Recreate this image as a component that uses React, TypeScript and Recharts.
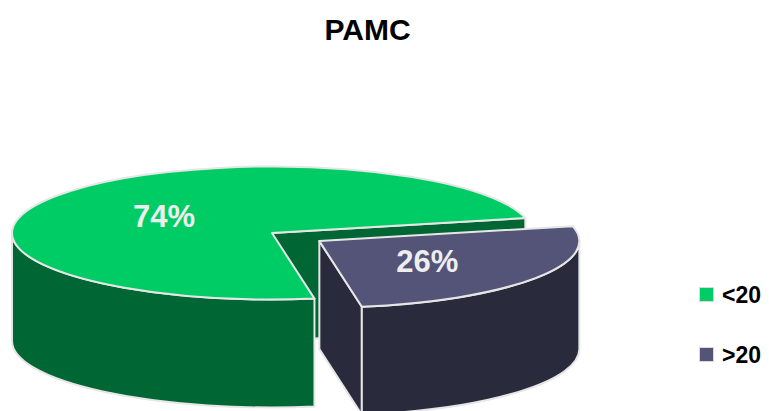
import { PieChart, Pie, Cell, Legend } from 'recharts';

const CATEGORIES = ['<20', '>20'];
const SHARES = [74, 26];
const TOP_COLORS = ['#00cc66', '#545479'];
const SIDE_COLORS = ['#006633', '#2a2a3d'];

const data = CATEGORIES.map((name, i) => ({ name, value: SHARES[i] }));

const FONT = '"Liberation Sans", Arial, sans-serif';
const TILT = 66.5 / 260; // vertical squash of the top ellipse
const DEPTH = 108;
const EXPLODE = [0, 57];
const EDGE = '#e6e6e6';
const RAD = Math.PI / 180;

function Slice3D(props: any) {
  const { cx, cy, startAngle, endAngle, outerRadius, index, percent } = props;
  const a1 = Math.min(startAngle, endAngle);
  const a2 = Math.max(startAngle, endAngle);
  const mid = (a1 + a2) / 2;
  const rx = outerRadius;
  const ry = outerRadius * TILT;
  const off = EXPLODE[index] ?? 0;
  const ox = cx + off * Math.cos(mid * RAD);
  const oy = cy - off * TILT * Math.sin(mid * RAD);
  const pt = (a: number, dy = 0) => [ox + rx * Math.cos(a * RAD), oy - ry * Math.sin(a * RAD) + dy];
  const f = (p: number[]) => `${p[0].toFixed(2)} ${p[1].toFixed(2)}`;

  const faces: string[] = [];
  const face = (a: number) =>
    `M ${ox} ${oy} L ${f(pt(a))} L ${f(pt(a, DEPTH))} L ${ox} ${oy + DEPTH} Z`;
  if (Math.cos(a1 * RAD) > 0) faces.push(face(a1));
  if (Math.cos(a2 * RAD) < 0) faces.push(face(a2));

  const walls: string[] = [];
  for (let k = -1; k <= 1; k++) {
    const lo = Math.max(a1, 180 + 360 * k);
    const hi = Math.min(a2, 360 + 360 * k);
    if (hi > lo) {
      const large = hi - lo > 180 ? 1 : 0;
      walls.push(
        `M ${f(pt(lo))} A ${rx} ${ry} 0 ${large} 0 ${f(pt(hi))} L ${f(pt(hi, DEPTH))} A ${rx} ${ry} 0 ${large} 1 ${f(pt(lo, DEPTH))} Z`
      );
    }
  }

  const largeTop = a2 - a1 > 180 ? 1 : 0;
  const top = `M ${ox} ${oy} L ${f(pt(a1))} A ${rx} ${ry} 0 ${largeTop} 0 ${f(pt(a2))} Z`;
  const [tx, ty] = [ox + 0.5 * rx * Math.cos(mid * RAD), oy - 0.5 * ry * Math.sin(mid * RAD)];

  return (
    <g>
      {faces.map((d, i) => (
        <path key={`f${i}`} d={d} fill={SIDE_COLORS[index]} stroke={EDGE} strokeWidth={2} strokeLinejoin="round" />
      ))}
      {walls.map((d, i) => (
        <path key={`w${i}`} d={d} fill={SIDE_COLORS[index]} stroke={EDGE} strokeWidth={2} strokeLinejoin="round" />
      ))}
      <path d={top} fill={TOP_COLORS[index]} stroke={EDGE} strokeWidth={2} strokeLinejoin="round" />
      <text
        x={tx}
        y={ty + 2}
        textAnchor="middle"
        dominantBaseline="central"
        fill="#eeeeee"
        fontFamily={FONT}
        fontWeight="bold"
        fontSize={31}
      >
        {`${Math.round(percent * 100)}%`}
      </text>
    </g>
  );
}

const renderLegend = ({ payload }: any) => (
  <div style={{ fontFamily: FONT }}>
    {(payload ?? []).map((item: any, i: number) => (
      <div
        key={item.value}
        style={{ display: 'flex', alignItems: 'center', height: 26, marginBottom: i === 0 ? 34 : 0 }}
      >
        <span
          style={{
            display: 'inline-block',
            width: 13,
            height: 13,
            background: TOP_COLORS[i],
            border: '1px solid #d9d9d9',
            marginRight: 8,
          }}
        />
        <span style={{ fontSize: 23, fontWeight: 'bold', color: '#000', lineHeight: '26px' }}>{item.value}</span>
      </div>
    ))}
  </div>
);

export default function App() {
  return (
    <div style={{ position: 'absolute', left: 0, top: 0, width: 769, height: 411, background: '#fff' }}>
      <div
        style={{
          position: 'absolute',
          left: 0,
          width: 735,
          top: 14.6,
          textAlign: 'center',
          fontFamily: FONT,
          fontWeight: 'bold',
          fontSize: 30,
          lineHeight: '30px',
          color: '#000',
        }}
      >
        PAMC
      </div>
      <PieChart width={769} height={411} margin={{ top: 0, right: 0, bottom: 0, left: 0 }}>
        <Pie
          data={data}
          dataKey="value"
          nameKey="name"
          cx={272}
          cy={233}
          outerRadius={260}
          startAngle={13}
          endAngle={373}
          stroke="none"
          labelLine={false}
          label={Slice3D}
          isAnimationActive={false}
        >
          {data.map((d, i) => (
            <Cell key={d.name} fill={TOP_COLORS[i]} fillOpacity={0} stroke="none" />
          ))}
        </Pie>
        <Legend
          layout="vertical"
          align="right"
          verticalAlign="middle"
          content={renderLegend}
          wrapperStyle={{ left: 699, top: 281.5, width: 70 }}
        />
      </PieChart>
    </div>
  );
}
